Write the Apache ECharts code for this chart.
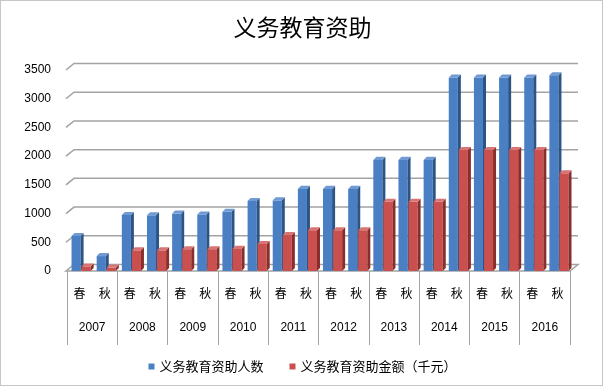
<!DOCTYPE html>
<html>
<head>
<meta charset="utf-8">
<script src="https://cdn.jsdelivr.net/npm/echarts@6/dist/echarts.min.js"></script>
<style>html,body{margin:0;padding:0;background:#fff;}#c{width:605px;height:388px;}</style>
</head>
<body>
<div id="c"></div>
<script>
// ---- data ----
var years = ['2007','2008','2009','2010','2011','2012','2013','2014','2015','2016'];
var seasons = ['春','秋'];
var categories = [];
years.forEach(function(){ seasons.forEach(function(s){ categories.push(s); }); });
var peopleName = '义务教育资助人数';
var amountName = '义务教育资助金额（千元）';
var people = [610,260, 975,970, 1000,985, 1030,1220, 1230,1430, 1430,1430, 1935,1935, 1935,3370, 3370,3370, 3370,3410];
var amount = [80,55, 360,360, 380,380, 385,470, 625,710, 710,710, 1205,1205, 1205,2105, 2105,2105, 2105,1700];
var yTicks = [0,500,1000,1500,2000,2500,3000,3500];

var FONT = '"Liberation Sans","Noto Sans CJK SC",sans-serif';
var CJK = '"Noto Sans CJK SC",sans-serif';
var blueC = ['#4A7FC4', '#2B5487', '#6F9AD4'];
var redC = ['#C9504E', '#8A2E2C', '#D97472'];
var GRID = '#A3A3A3';

function makeBar(frontOffset, colors) {
  return function (params, api) {
    var idx = api.value(0), v = api.value(1);
    var band = api.size([1, 0])[0];
    var p0 = api.coord([idx, 0]);
    var p1 = api.coord([idx, v]);
    var s = band / 25;
    var x0 = p0[0] - band / 2 + frontOffset * s;
    var w = 9 * s, dx = 3 * s, dy = 3 * s;
    var yb = p0[1], yt = p1[1];
    return { type: 'group', children: [
      { type: 'rect', shape: { x: x0, y: yt, width: w, height: yb - yt }, style: { fill: colors[0] } },
      { type: 'polygon', shape: { points: [[x0 + w, yt], [x0 + w + dx, yt - dy], [x0 + w + dx, yb - dy], [x0 + w, yb]] }, style: { fill: colors[1] } },
      { type: 'polygon', shape: { points: [[x0, yt], [x0 + dx, yt - dy], [x0 + w + dx, yt - dy], [x0 + w, yt]] }, style: { fill: colors[2] } }
    ]};
  };
}

function gridRender(params, api) {
  var cs = params.coordSys;
  var v = api.value(1);
  var y = api.coord([0, v])[1];
  var L = cs.x, R = cs.x + cs.width;
  if (v === 0) {
    return { type: 'polygon', shape: { points: [[L - 1, y], [R, y], [R + 8, y - 6.5], [L + 7, y - 6.5]] },
      style: { fill: '#fff', stroke: GRID, lineWidth: 1.5 } };
  }
  return { type: 'polyline', shape: { points: [[L - 1, y], [L + 7, y - 6.5], [R + 8, y - 6.5]] },
    style: { fill: null, stroke: GRID, lineWidth: 1.5 } };
}

var chart = echarts.init(document.getElementById('c'), null, { renderer: 'canvas' });
chart.setOption({
  animation: false,
  backgroundColor: '#fff',
  title: { text: '义务教育资助', left: 'center', top: 11,
    textStyle: { fontFamily: CJK, fontSize: 23, fontWeight: 'normal', color: '#000' } },
  legend: { bottom: 10, left: 'center', icon: 'rect', itemWidth: 6, itemHeight: 6, itemGap: 26,
    data: [peopleName, amountName],
    textStyle: { fontFamily: CJK, fontSize: 13, color: '#000' } },
  grid: { left: 67, right: 35, top: 70, bottom: 117, containLabel: false },
  xAxis: [
    { type: 'category', data: categories, position: 'bottom',
      axisLine: { show: false }, axisTick: { show: false },
      axisLabel: { interval: 0, margin: 16, fontFamily: CJK, fontSize: 12, color: '#000' } },
    { type: 'category', data: years, position: 'bottom',
      axisLine: { show: false },
      axisTick: { show: true, interval: 0, length: 74, lineStyle: { color: GRID, width: 1 } },
      axisLabel: { interval: 0, margin: 51, fontFamily: FONT, fontSize: 12, color: '#000' } }
  ],
  yAxis: { type: 'value', min: 0, max: 3500, interval: 500,
    axisLine: { show: false }, axisTick: { show: false }, splitLine: { show: false },
    axisLabel: { margin: 16, fontFamily: FONT, fontSize: 12, color: '#000',
      formatter: function (v) { return String(v); } } },
  graphic: [
    { type: 'rect', shape: { x: 0.5, y: 0.5, width: 602, height: 385 },
      style: { fill: null, stroke: '#8C8C8C', lineWidth: 1, lineDash: [1, 1] }, z: 100 }
  ],
  series: [
    { type: 'custom', name: 'grid', silent: true, z: 1, xAxisIndex: 0,
      data: yTicks.map(function (v) { return [0, v]; }),
      encode: { x: 0, y: 1 }, renderItem: gridRender },
    { type: 'custom', name: peopleName, z: 2, xAxisIndex: 0,
      itemStyle: { color: blueC[0] },
      data: people.map(function (v, i) { return [i, v]; }),
      encode: { x: 0, y: 1 }, renderItem: makeBar(4.5, blueC) },
    { type: 'custom', name: amountName, z: 3, xAxisIndex: 0,
      itemStyle: { color: redC[0] },
      data: amount.map(function (v, i) { return [i, v]; }),
      encode: { x: 0, y: 1 }, renderItem: makeBar(14.5, redC) }
  ]
});
</script>
</body>
</html>
